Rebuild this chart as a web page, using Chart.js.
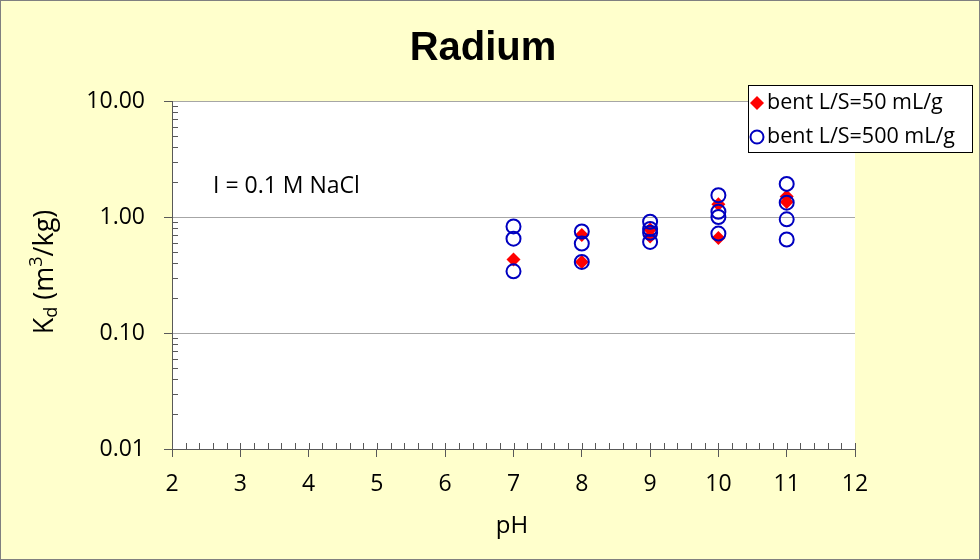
<html>
  <head>
    <meta charset="utf-8" />
    <title>Radium Kd</title>
    <style>
      body { margin: 0; background: #ffffcc; }
      canvas { display: block; }
    </style>
  </head>
  <body>
    <canvas id="kdChart" width="980" height="560"></canvas>

    <script src="https://cdn.jsdelivr.net/npm/chart.js"></script>
    <script>
      // data
      var phLow = [7, 8, 8, 9, 9, 10, 10, 11, 11];
      var kdLow = [0.43, 0.70, 0.41, 0.78, 0.68, 1.29, 0.66, 1.50, 1.35];
      var phHigh = [7, 7, 7, 8, 8, 8, 9, 9, 9, 9, 10, 10, 10, 10, 11, 11, 11, 11];
      var kdHigh = [0.83, 0.65, 0.34, 0.75, 0.59, 0.41, 0.91, 0.79, 0.73, 0.61, 1.54, 1.11, 1.00, 0.72, 1.93, 1.33, 0.955, 0.64];
      var yTicks = [0.01, 0.1, 1, 10];
      var labelLow = "bent L/S=50 mL/g";
      var labelHigh = "bent L/S=500 mL/g";

      var FONT = "'Open Sans', sans-serif";
      var AXIS = "#595959";

      function toPoints(xs, ys) {
        return xs.map(function (x, i) {
          return { x: x, y: ys[i] };
        });
      }

      // background, plot area, minor ticks, texts and legend box
      var decorations = {
        id: "decorations",
        beforeDraw: function (chart) {
          var c = chart.ctx;
          var a = chart.chartArea;
          c.save();
          c.fillStyle = "#ffffcc";
          c.fillRect(0, 0, chart.width, chart.height);
          c.strokeStyle = "#808080";
          c.lineWidth = 1;
          c.strokeRect(0.5, 0.5, chart.width - 1, chart.height - 1);
          c.fillStyle = "#ffffff";
          c.fillRect(a.left, a.top, a.right - a.left, a.bottom - a.top);
          c.restore();
        },
        beforeDatasetsDraw: function (chart) {
          var c = chart.ctx;
          var a = chart.chartArea;
          var xs = chart.scales.x;
          var ys = chart.scales.y;
          c.save();
          c.strokeStyle = AXIS;
          c.lineWidth = 1;
          c.beginPath();
          // x minor ticks every 0.2, pointing up
          for (var i = 0; i <= 50; i++) {
            var px = Math.round(xs.getPixelForValue(2 + i * 0.2)) + 0.5;
            c.moveTo(px, a.bottom);
            c.lineTo(px, a.bottom - 6);
          }
          // y minor ticks 2..9 per decade, pointing right
          [0.01, 0.1, 1].forEach(function (d) {
            for (var k = 2; k <= 9; k++) {
              var py = Math.round(ys.getPixelForValue(d * k)) + 0.5;
              c.moveTo(a.left, py);
              c.lineTo(a.left + 6, py);
            }
          });
          c.stroke();
          c.restore();
        },
        afterDraw: function (chart) {
          var c = chart.ctx;
          c.save();
          c.fillStyle = "#000";
          c.textBaseline = "middle";

          // title
          c.textAlign = "center";
          c.font = "bold 40px 'Liberation Sans', Arial, sans-serif";
          c.fillText("Radium", 483, 49);

          // x axis title
          c.font = "24px " + FONT;
          c.fillText("pH", 512, 526);

          // note
          c.textAlign = "left";
          c.font = "23px " + FONT;
          c.fillText("I = 0.1 M NaCl", 213, 186);

          // y axis title: K_d (m^3/kg)
          c.translate(45, 272);
          c.rotate(-Math.PI / 2);
          var parts = [
            ["K", 27, 0],
            ["d", 18, 7],
            [" (m", 27, 0],
            ["3", 18, -8],
            ["/kg)", 27, 0],
          ];
          var total = 0;
          parts.forEach(function (p) {
            c.font = p[1] + "px " + FONT;
            total += c.measureText(p[0]).width;
          });
          var x = -total / 2;
          parts.forEach(function (p) {
            c.font = p[1] + "px " + FONT;
            c.fillText(p[0], x, p[2]);
            x += c.measureText(p[0]).width;
          });
          c.setTransform(1, 0, 0, 1, 0, 0);

          // legend box
          c.fillStyle = "#ffffff";
          c.fillRect(748, 85, 224, 67);
          c.strokeStyle = "#000";
          c.lineWidth = 1;
          c.strokeRect(748.5, 85.5, 224, 67);

          c.fillStyle = "#ff0000";
          c.beginPath();
          c.moveTo(757, 96);
          c.lineTo(764, 103);
          c.lineTo(757, 110);
          c.lineTo(750, 103);
          c.closePath();
          c.fill();

          c.strokeStyle = "#0000c0";
          c.lineWidth = 2;
          c.beginPath();
          c.arc(757, 137, 6.5, 0, Math.PI * 2);
          c.stroke();

          c.fillStyle = "#000";
          c.font = "21.5px " + FONT;
          c.fillText(labelLow, 767, 103);
          c.fillText(labelHigh, 767, 137);
          c.restore();
        },
      };

      var ctx = document.getElementById("kdChart").getContext("2d");
      var kdChart = new Chart(ctx, {
        type: "scatter",
        data: {
          datasets: [
            {
              label: labelHigh,
              data: toPoints(phHigh, kdHigh),
              pointStyle: "circle",
              pointRadius: 7,
              pointBorderWidth: 2,
              borderColor: "#0000c0",
              backgroundColor: "rgba(0,0,0,0)",
              order: 0,
            },
            {
              label: labelLow,
              data: toPoints(phLow, kdLow),
              pointStyle: "rectRot",
              pointRadius: 7,
              pointBorderWidth: 0,
              borderColor: "#ff0000",
              backgroundColor: "#ff0000",
              order: 1,
            },
          ],
        },
        options: {
          responsive: false,
          animation: false,
          layout: { padding: { left: 0, top: 101, right: 125, bottom: 51 } },
          plugins: {
            legend: { display: false },
            title: { display: false },
            tooltip: { enabled: false },
          },
          scales: {
            x: {
              type: "linear",
              min: 2,
              max: 12,
              afterFit: function (s) {
                s.height = 60;
              },
              ticks: {
                stepSize: 1,
                padding: 14,
                color: "#000",
                font: { family: FONT, size: 23 },
              },
              grid: {
                color: "rgba(0,0,0,0)",
                tickColor: AXIS,
                tickLength: 8,
              },
              border: { color: AXIS, width: 1 },
            },
            y: {
              type: "logarithmic",
              min: 0.01,
              max: 10,
              afterFit: function (s) {
                s.width = 172;
              },
              afterBuildTicks: function (s) {
                s.ticks = yTicks.map(function (v) {
                  return { value: v };
                });
              },
              ticks: {
                padding: 19,
                color: "#000",
                font: { family: FONT, size: 23 },
                callback: function (v) {
                  return Number(v).toFixed(2);
                },
              },
              grid: {
                color: function (c) {
                  return c.tick && c.tick.value === 0.01 ? "rgba(0,0,0,0)" : "#a6a6a6";
                },
                tickColor: AXIS,
                tickLength: 8,
              },
              border: { color: AXIS, width: 1 },
            },
          },
        },
        plugins: [decorations],
      });
    </script>
  </body>
</html>
